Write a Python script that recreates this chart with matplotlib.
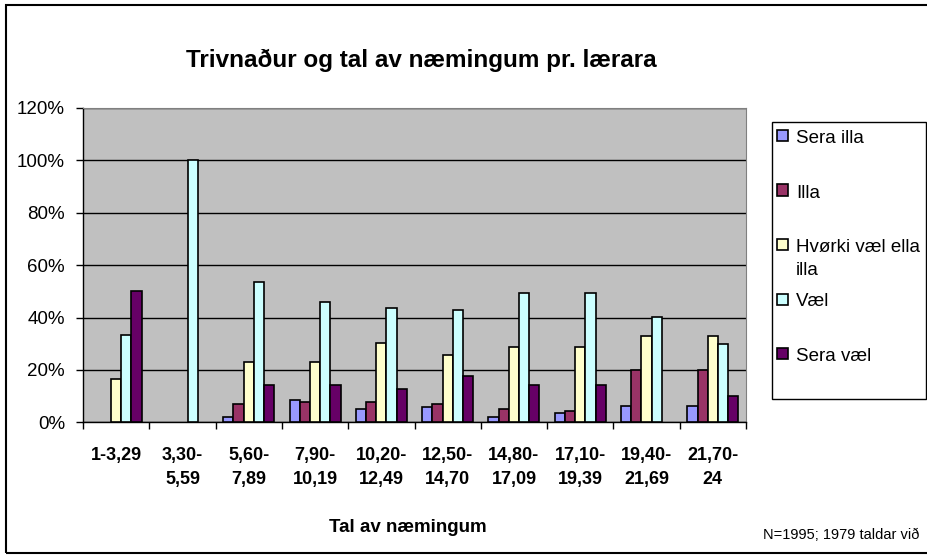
import numpy as np
import matplotlib.pyplot as plt
from matplotlib.patches import Rectangle
from matplotlib.ticker import PercentFormatter

plt.rcParams['font.family'] = ['Liberation Sans', 'DejaVu Sans']

# bólkar (tal av næmingum pr. lærara)
categories = ['1-3,29', '3,30-\n5,59', '5,60-\n7,89', '7,90-\n10,19', '10,20-\n12,49',
              '12,50-\n14,70', '14,80-\n17,09', '17,10-\n19,39', '19,40-\n21,69', '21,70-\n24']

series_names = ['Sera illa', 'Illa', 'Hvørki væl ella\nilla', 'Væl', 'Sera væl']
series_colors = ['#9999FF', '#993366', '#FFFFCC', '#CCFFFF', '#660066']

# partar (0-1)
sera_illa = [0.00, 0.00, 0.02, 0.085, 0.05, 0.057, 0.02, 0.036, 0.064, 0.064]
illa = [0.00, 0.00, 0.07, 0.079, 0.079, 0.07, 0.051, 0.043, 0.20, 0.20]
hvorki = [0.167, 0.00, 0.23, 0.23, 0.302, 0.258, 0.286, 0.286, 0.33, 0.33]
vael = [0.333, 1.00, 0.537, 0.458, 0.437, 0.429, 0.495, 0.495, 0.403, 0.30]
sera_vael = [0.50, 0.00, 0.144, 0.143, 0.129, 0.178, 0.143, 0.143, 0.00, 0.10]

series = [sera_illa, illa, hvorki, vael, sera_vael]

W, H = 928, 560


def px(x, y):
    # pixel -> figure fraction
    return x / W, 1 - y / H


fig = plt.figure(figsize=(W / 100, H / 100), dpi=100)
fig.patch.set_facecolor('white')

l, t = px(83, 108)
r, b = px(746, 422.3)
ax = fig.add_axes([l, b, r - l, t - b])
ax.set_facecolor('#C0C0C0')

x = np.arange(len(categories))
bw = 1 / 6.5
for i, (vals, name, col) in enumerate(zip(series, series_names, series_colors)):
    # tómar súlur verða ikki teknaðar
    lw = [1.2 if v > 0 else 0 for v in vals]
    ax.bar(x + (i - 2) * bw, vals, bw, color=col, edgecolor='black',
           linewidth=lw, zorder=3)

ax.set_xlim(-0.5, len(categories) - 0.5)
ax.set_ylim(0, 1.2)
ax.set_yticks(np.arange(0, 1.21, 0.2))
ax.yaxis.set_major_formatter(PercentFormatter(1.0, decimals=0))
ax.grid(axis='y', color='black', linewidth=1, zorder=1)

ax.set_xticks(x)
ax.set_xticklabels(categories, fontsize=13, fontweight='bold', linespacing=1.5)
ax.set_xticks(np.arange(-0.5, len(categories)), minor=True)
ax.tick_params(axis='x', which='major', length=0, pad=18)
ax.tick_params(axis='x', which='minor', length=5, width=1, direction='out')
ax.tick_params(axis='y', length=5, width=1, pad=8, labelsize=13.5)

for s in ['top', 'right']:
    ax.spines[s].set_color('#808080')
for s in ['left', 'bottom']:
    ax.spines[s].set_color('black')
    ax.spines[s].set_linewidth(1)

# tittul og aksatekstur
tx, ty = px(421, 60)
fig.text(tx, ty, 'Trivnaður og tal av næmingum pr. lærara', ha='center', va='center',
         fontsize=17.5, fontweight='bold')
ax_x, ax_y = px(408, 527)
fig.text(ax_x, ax_y, 'Tal av næmingum', ha='center', va='center', fontsize=13.5,
         fontweight='bold')
nx, ny = px(763, 535)
fig.text(nx, ny, 'N=1995; 1979 taldar við', ha='left', va='center', fontsize=10.5)

# forklaring
lx0, ly0 = px(772, 399)
lx1, ly1 = px(926, 122)
fig.patches.append(Rectangle((lx0, ly0), lx1 - lx0, ly1 - ly0, transform=fig.transFigure,
                             facecolor='white', edgecolor='black', linewidth=1))
for i, (name, col) in enumerate(zip(series_names, series_colors)):
    yc = 136 + 54.5 * i
    sx, sy = px(777, yc + 5)
    fig.patches.append(Rectangle((sx, sy), 11 / W, 11 / H, transform=fig.transFigure,
                                 facecolor=col, edgecolor='black', linewidth=1.2))
    tx_, ty_ = px(796, yc - 6)
    fig.text(tx_, ty_, name, ha='left', va='top', fontsize=13.5, linespacing=1.45)

# rammi um alt
fx0, fy0 = px(6, 553)
fx1, fy1 = px(935, 5)
fig.patches.append(Rectangle((fx0, fy0), fx1 - fx0, fy1 - fy0, transform=fig.transFigure,
                             facecolor='none', edgecolor='black', linewidth=1.5))

fig.savefig('out.png', dpi=100)
